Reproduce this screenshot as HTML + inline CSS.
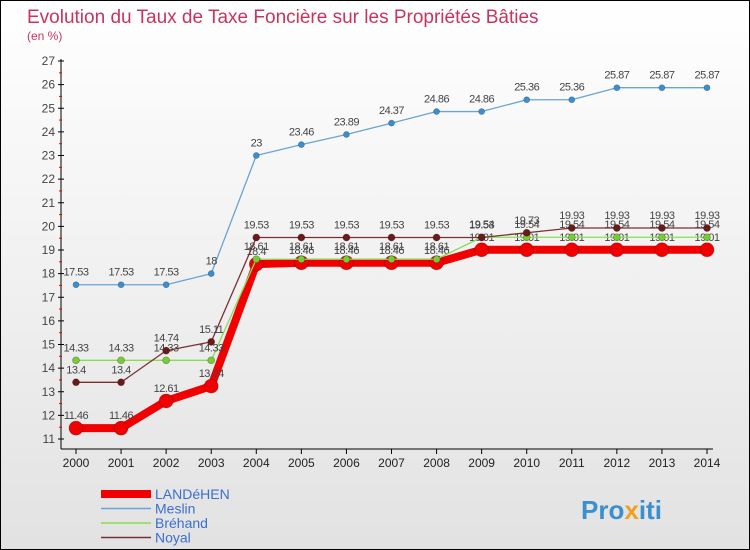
<!DOCTYPE html>
<html><head><meta charset="utf-8"><style>
body{margin:0;}
#c{width:748px;height:548px;border:1px solid #000;background:linear-gradient(#fff,#e2e2e2);position:relative;font-family:"Liberation Sans",sans-serif;overflow:hidden}
</style></head><body>
<div id="c">
<svg id="s" width="748" height="548" xmlns="http://www.w3.org/2000/svg" font-family="Liberation Sans, sans-serif">
<text x="26" y="22" font-size="19" fill="#c8345e">Evolution du Taux de Taxe Foncière sur les Propriétés Bâties</text>
<text x="26" y="39" font-size="12" fill="#c8345e">(en %)</text>
<g id="g"></g>
<text x="580" y="518" font-size="26" font-weight="bold" fill="#3a8fd0">Pro<tspan fill="#f0a020">x</tspan>iti</text>
</svg>
</div>
<script>
const years=[2000,2001,2002,2003,2004,2005,2006,2007,2008,2009,2010,2011,2012,2013,2014];
const yTicks=[11,12,13,14,15,16,17,18,19,20,21,22,23,24,25,26,27];
const landehen=[11.46,11.46,12.61,13.24,18.4,18.46,18.46,18.46,18.46,19.01,19.01,19.01,19.01,19.01,19.01];
const meslin=[17.53,17.53,17.53,18,23,23.46,23.89,24.37,24.86,24.86,25.36,25.36,25.87,25.87,25.87];
const brehand=[14.33,14.33,14.33,14.33,18.61,18.61,18.61,18.61,18.61,19.54,19.54,19.54,19.54,19.54,19.54];
const noyal=[13.4,13.4,14.74,15.11,19.53,19.53,19.53,19.53,19.53,19.53,19.73,19.93,19.93,19.93,19.93];
const names=["LANDéHEN","Meslin","Bréhand","Noyal"];
const NS="http://www.w3.org/2000/svg";
const g=document.getElementById('g');
const X=i=>75+i*(706-75)/(years.length-1);
const Y=v=>60+(27-v)*(438-60)/16;
function el(t,a,p){const e=document.createElementNS(NS,t);for(const k in a)e.setAttribute(k,a[k]);(p||g).appendChild(e);return e;}
let e=el('line',{x1:60,y1:58,x2:60,y2:448,stroke:'#000'});


e=el('line',{x1:60,y1:448,x2:712,y2:448,stroke:'#000'});


yTicks.forEach(v=>{
 el('line',{x1:57,y1:Y(v),x2:63,y2:Y(v),stroke:'#000'});
 if(v<27)el('line',{x1:58,y1:Y(v+0.5),x2:61,y2:Y(v+0.5),stroke:'#e00'});
 const t=el('text',{x:54,y:Y(v)+4,'font-size':12,'text-anchor':'end',fill:'#444'});t.textContent=v;
 
 
});
years.forEach((y,i)=>{
 el('line',{x1:X(i),y1:448,x2:X(i),y2:453,stroke:'#000'});
 const t=el('text',{x:X(i),y:466,'font-size':12,'text-anchor':'middle',fill:'#222'});t.textContent=y;
 
 
});
function series(d,col,w,r,dot,name,lab){
 const p=el('polyline',{points:d.map((v,i)=>X(i)+','+Y(v)).join(' '),fill:'none',stroke:col,'stroke-width':w,'stroke-linejoin':'round'});
 
 
 d.forEach((v,i)=>{
  const c=el('circle',{cx:X(i),cy:Y(v),r:r,fill:dot,stroke:'rgba(0,0,0,0.3)','stroke-width':0.7});
  
  
  if(lab){const t=el('text',{x:X(i),y:Y(v)-9,'font-size':11,'text-anchor':'middle',fill:'#444','letter-spacing':'-0.5'});t.textContent=v;
  
  }
 });
}
series(landehen,'#f00000',8,7,'#f00000','landehen',true);
series(meslin,'#6aa4d4',1.3,3,'#3a8fd0','meslin',true);
series(brehand,'#88dd55',1.3,3.5,'#77cc33','brehand',true);
series(noyal,'#7a3030',1.3,3.5,'#6a1a1a','noyal',true);
const cols=['#f00000','#6aa4d4','#88dd55','#7a3030'],ws=[8,1.5,1.5,1.5];
names.forEach((n,i)=>{
 const y=493+i*14.5;
 const l=el('line',{x1:100,y1:y,x2:150,y2:y,stroke:cols[i],'stroke-width':ws[i]});
 
 
 const t=el('text',{x:154,y:y+5,'font-size':14,fill:'#3a6fd0'});t.textContent=n;
 
 
});
</script>
</body></html>
